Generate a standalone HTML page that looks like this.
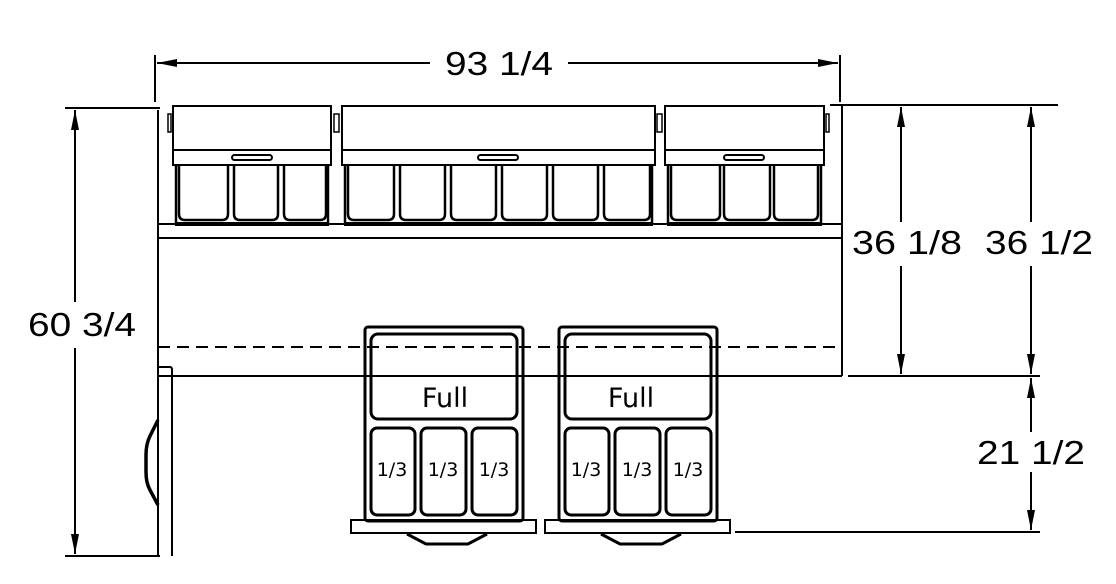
<!DOCTYPE html>
<html><head><meta charset="utf-8"><style>
html,body{margin:0;padding:0;background:#fff;width:1116px;height:584px;overflow:hidden}
svg{display:block}
.d{font-family:"Liberation Sans",sans-serif;font-size:33px;fill:#000}
.p{font-family:"DejaVu Sans","Liberation Sans",sans-serif;fill:#000}
</style></head><body>
<svg width="1116" height="584" viewBox="0 0 1116 584" xmlns="http://www.w3.org/2000/svg">
<defs>
<marker id="b" viewBox="0 0 20 8" refX="20" refY="4" markerWidth="20" markerHeight="8" orient="auto-start-reverse" markerUnits="userSpaceOnUse"><path d="M0,0 L20,4 L0,8 z" fill="#000"/></marker>
</defs>
<g stroke="#000" fill="none" stroke-width="2">
<line x1="155" y1="55" x2="155" y2="102"/>
<line x1="840" y1="55" x2="840" y2="102"/>
<line x1="157" y1="63" x2="430" y2="63" marker-start="url(#b)"/>
<line x1="568" y1="63" x2="838" y2="63" marker-end="url(#b)"/>
<line x1="65" y1="108" x2="160" y2="108"/>
<line x1="65" y1="556" x2="160" y2="556"/>
<line x1="75" y1="110" x2="75" y2="302" marker-start="url(#b)"/>
<line x1="75" y1="348" x2="75" y2="554" marker-end="url(#b)"/>
<line x1="830" y1="105" x2="1058" y2="105"/>
<line x1="848" y1="376" x2="1040" y2="376"/>
<line x1="735" y1="532" x2="1040" y2="532"/>
<line x1="901" y1="107" x2="901" y2="222" marker-start="url(#b)"/>
<line x1="901" y1="266" x2="901" y2="374" marker-end="url(#b)"/>
<line x1="1031" y1="107" x2="1031" y2="222" marker-start="url(#b)"/>
<line x1="1031" y1="266" x2="1031" y2="374" marker-end="url(#b)"/>
<line x1="1031" y1="378" x2="1031" y2="432" marker-start="url(#b)"/>
<line x1="1031" y1="472" x2="1031" y2="530" marker-end="url(#b)"/>
<line x1="158" y1="110" x2="158" y2="376"/>
<line x1="842" y1="106" x2="842" y2="376"/>
<line x1="158" y1="376" x2="842" y2="376"/>
<line x1="158" y1="224" x2="842" y2="224"/>
<line x1="158" y1="238" x2="842" y2="238"/>
<line x1="158" y1="347" x2="842" y2="347" stroke-dasharray="12,7"/>
</g>
<g stroke="#000" fill="none" stroke-width="2">
<rect x="173" y="106" width="158" height="59"/><line x1="173" y1="150" x2="331" y2="150"/>
<rect x="232" y="155" width="40" height="5" rx="2.5"/>
<rect x="342" y="106" width="313" height="59"/><line x1="342" y1="150" x2="655" y2="150"/>
<rect x="478" y="155" width="40" height="5" rx="2.5"/>
<rect x="665" y="106" width="159" height="59"/><line x1="665" y1="150" x2="824" y2="150"/>
<rect x="724" y="155" width="40" height="5" rx="2.5"/>
<rect x="168" y="114" width="3" height="18" stroke-width="1.5"/>
<rect x="334" y="114" width="5" height="18" stroke-width="1.5"/>
<rect x="657" y="114" width="5" height="18" stroke-width="1.5"/>
<rect x="826" y="114" width="3" height="18" stroke-width="1.5"/>
</g>
<g stroke="#000" fill="none" stroke-width="2.5">
<line x1="175" y1="224" x2="329" y2="224" stroke-width="4"/>
<line x1="344" y1="224" x2="653" y2="224" stroke-width="4"/>
<line x1="667" y1="224" x2="822" y2="224" stroke-width="4"/>
<path d="M179 166 V214 q0 6 6 6 H222 q6 0 6-6 V166"/>
<path d="M234 166 V214 q0 6 6 6 H272 q6 0 6-6 V166"/>
<path d="M284 166 V214 q0 6 6 6 H320 q6 0 6-6 V166"/>
<path d="M348 166 V214 q0 6 6 6 H388 q6 0 6-6 V166"/>
<path d="M400 166 V214 q0 6 6 6 H439 q6 0 6-6 V166"/>
<path d="M451 166 V214 q0 6 6 6 H490 q6 0 6-6 V166"/>
<path d="M502 166 V214 q0 6 6 6 H541 q6 0 6-6 V166"/>
<path d="M553 166 V214 q0 6 6 6 H592 q6 0 6-6 V166"/>
<path d="M604 166 V214 q0 6 6 6 H644 q6 0 6-6 V166"/>
<path d="M671 166 V214 q0 6 6 6 H714 q6 0 6-6 V166"/>
<path d="M724 166 V214 q0 6 6 6 H764 q6 0 6-6 V166"/>
<path d="M774 166 V214 q0 6 6 6 H812 q6 0 6-6 V166"/>
<line x1="176" y1="166" x2="176" y2="224"/><line x1="328" y1="166" x2="328" y2="224"/>
<line x1="345" y1="166" x2="345" y2="224"/><line x1="652" y1="166" x2="652" y2="224"/>
<line x1="668" y1="166" x2="668" y2="224"/><line x1="821" y1="166" x2="821" y2="224"/>
</g>
<g stroke="#000" fill="none" stroke-width="2">
<path d="M158 367 H170 Q172 367 172 370 V556"/>
<line x1="158" y1="367" x2="158" y2="556"/>
<path d="M158 420 L150 436 Q146 444 146 455 V472 Q146 483 150 490 L158 505" stroke-width="3.5"/>
</g>
<g id="dr" stroke="#000" fill="none">
<rect x="365" y="327" width="158" height="194" rx="3" stroke-width="3"/>
<rect x="371" y="334" width="146" height="85" rx="7" stroke-width="3"/>
<rect x="371" y="428" width="44" height="87" rx="6" stroke-width="3"/>
<rect x="421" y="428" width="45" height="87" rx="6" stroke-width="3"/>
<rect x="472" y="428" width="45" height="87" rx="6" stroke-width="3"/>
<rect x="351" y="520" width="185" height="13" stroke-width="2"/>
<path d="M407 534 L426 544 H468 L487 534" stroke-width="3"/>
</g>
<use href="#dr" transform="translate(194,0)"/>
<g class="p">
<text x="445" y="407" font-size="27" text-anchor="middle">Full</text>
<text x="631" y="407" font-size="27" text-anchor="middle">Full</text>
<g font-size="19" text-anchor="middle">
<text x="392" y="476">1/3</text><text x="443" y="476">1/3</text><text x="494" y="476">1/3</text>
<text x="586" y="476">1/3</text><text x="637" y="476">1/3</text><text x="688" y="476">1/3</text>
</g>
</g>
<g class="d">
<text x="445" y="75" textLength="108" lengthAdjust="spacingAndGlyphs">93 1/4</text>
<text x="28" y="336" textLength="108" lengthAdjust="spacingAndGlyphs">60 3/4</text>
<text x="852" y="254" textLength="110" lengthAdjust="spacingAndGlyphs">36 1/8</text>
<text x="985" y="254" textLength="108" lengthAdjust="spacingAndGlyphs">36 1/2</text>
<text x="977" y="464" textLength="108" lengthAdjust="spacingAndGlyphs">21 1/2</text>
</g>
</svg>
</body></html>
